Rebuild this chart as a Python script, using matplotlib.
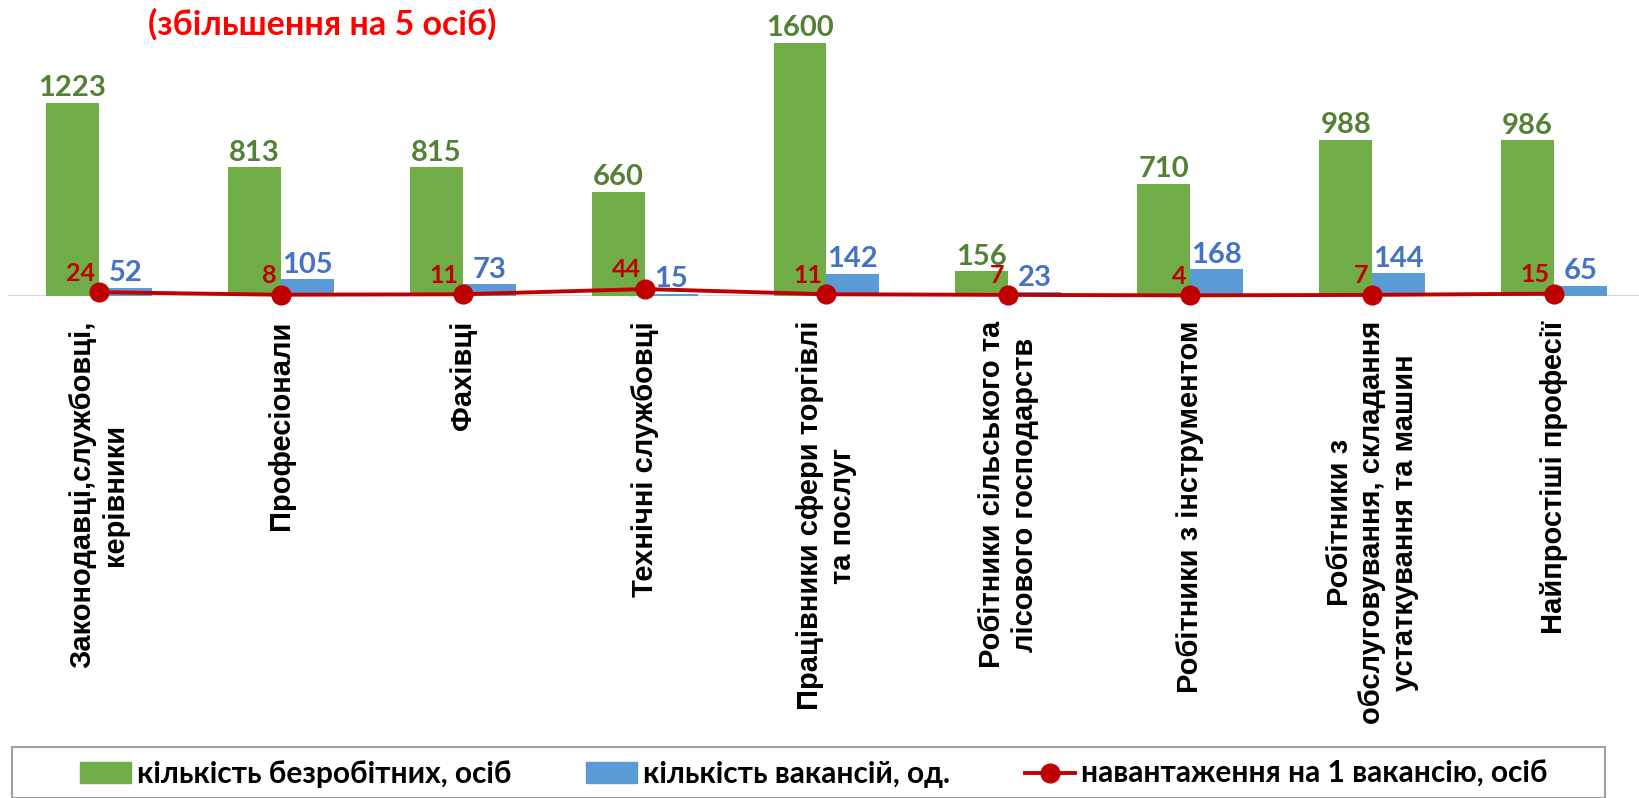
import matplotlib
matplotlib.use("Agg")
import matplotlib.pyplot as plt
from matplotlib.patches import Patch, Rectangle
from matplotlib.lines import Line2D
import numpy as np

categories = [
    "Законодавці,службовці,\nкерівники",
    "Професіонали",
    "Фахівці",
    "Технічні службовці",
    "Працівники сфери торгівлі\nта послуг",
    "Робітники сільського та\nлісового господарств",
    "Робітники з інструментом",
    "Робітники з\nобслуговування, складання\nустаткування та машин",
    "Найпростіші професії",
]
unemployed = [1223, 813, 815, 660, 1600, 156, 710, 988, 986]
vacancies = [52, 105, 73, 15, 142, 23, 168, 144, 65]
load = [24, 8, 11, 44, 11, 7, 4, 7, 15]

series_names = ["кількість безробітних, осіб", "кількість вакансій, од.",
                "навантаження на 1 вакансію, осіб"]
subtitle = "(збільшення на 5 осіб)"

GREEN = "#70AD47"
BLUE = "#5B9BD5"
RED = "#C00000"
GREEN_TXT = "#538135"
BLUE_TXT = "#4472C4"

num_font = ["Lato", "DejaVu Sans"]
cat_font = ["Liberation Sans", "DejaVu Sans"]

W, H = 1640, 798
fig = plt.figure(figsize=(W / 100, H / 100), dpi=100)

base_px = 296  # baseline from top
ymax = 1800
scale = 0.1582  # px per unit
ax_h = ymax * scale
ax = fig.add_axes([8 / W, (H - base_px) / H, 1637 / W, ax_h / H])
ax.set_xlim(-0.5, 8.5)
ax.set_ylim(0, ymax)
for s in ax.spines.values():
    s.set_visible(False)
ax.set_yticks([])

x = np.arange(len(categories))
bw = 0.291
ax.bar(x - bw / 2, unemployed, bw, color=GREEN, zorder=2)
ax.bar(x + bw / 2, vacancies, bw, color=BLUE, zorder=2)
ax.axhline(0, color="#D9D9D9", lw=1.6, zorder=1)
ax.plot(x, load, color=RED, lw=2.8, marker="o", markersize=13.5, zorder=4, clip_on=False)

for xi, v in zip(x, unemployed):
    ax.annotate(str(v), (xi - bw / 2, v), xytext=(0, 1), textcoords="offset points",
                ha="center", va="bottom", fontsize=21, fontweight="bold",
                color=GREEN_TXT, family=num_font, zorder=5)
for xi, v in zip(x, vacancies):
    ax.annotate(str(v), (xi + bw / 2, v), xytext=(0, 1), textcoords="offset points",
                ha="center", va="bottom", fontsize=21, fontweight="bold",
                color=BLUE_TXT, family=num_font, zorder=5)
for xi, v in zip(x, load):
    ax.annotate(str(v), (xi, v), xytext=(-3, 5.5), textcoords="offset points",
                ha="right", va="bottom", fontsize=18, fontweight="bold",
                color=RED, family=num_font, zorder=5)

ax.set_xticks(x)
ax.set_xticklabels(categories, rotation=90, ha="center", va="top",
                   multialignment="center", fontsize=21, fontweight="bold",
                   family=cat_font)
ax.tick_params(axis="x", length=0, pad=18)

fig.text(322 / W, 1 - 24 / H, subtitle, ha="center", va="center", fontsize=24.5,
         fontweight="bold", color="#FF0000", family=num_font)

# legend box
fig.patches.append(Rectangle((12 / W, 0.5 / H), (1605 - 12) / W, (797 - 746) / H,
                             transform=fig.transFigure, fill=False,
                             edgecolor="#A0A0A0", lw=1.5))
handles = [Patch(color=GREEN), Patch(color=BLUE),
           Line2D([], [], color=RED, lw=2.8, marker="o", markersize=13.5)]
fig.legend(handles, series_names, loc="center", bbox_to_anchor=(814 / W, 1 - 774 / H),
           ncol=3, frameon=False, prop={"family": num_font, "weight": "bold", "size": 21.5},
           handlelength=1.7, handletextpad=0.2, columnspacing=2.5, handleheight=0.7)

fig.savefig("out.png", dpi=100)
